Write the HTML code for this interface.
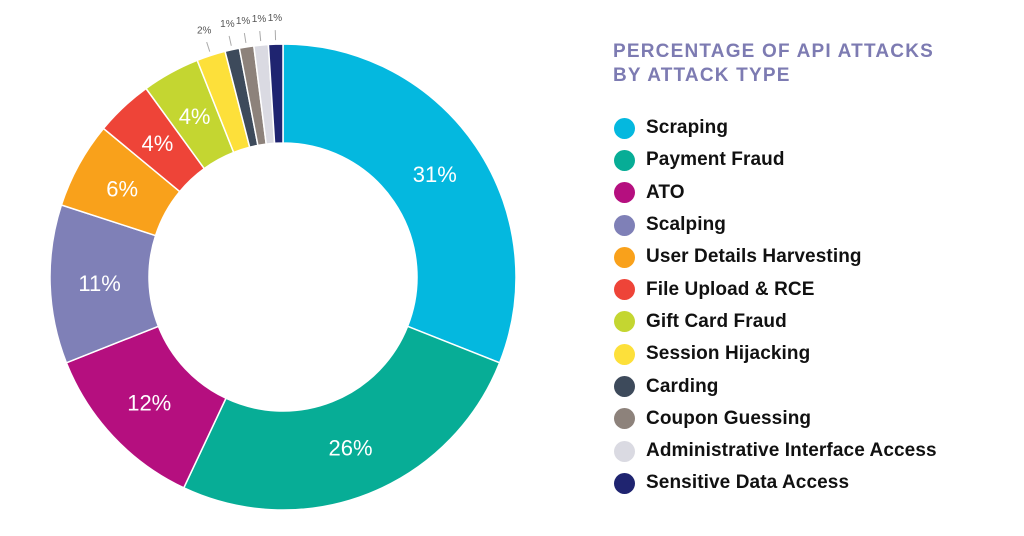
<!DOCTYPE html>
<html><head><meta charset="utf-8"><style>
body{margin:0;width:1024px;height:536px;background:#fff;overflow:hidden;font-family:"Liberation Sans",sans-serif}
.t{position:absolute;left:613px;top:40px;color:#7d7bb2;font-weight:bold;font-size:19px;line-height:24px;letter-spacing:1.2px}
.lg{position:absolute;left:614px;top:112px}
.r{height:32.3px;display:flex;align-items:center;font-size:19px;font-weight:bold;color:#111;letter-spacing:0.1px}
.d{width:21px;height:21px;border-radius:50%;margin-right:11px}
</style></head><body>
<svg id="s" width="1024" height="536" style="position:absolute;left:0;top:0"></svg>
<div class="t">PERCENTAGE OF API ATTACKS<br>BY ATTACK TYPE</div>
<div class="lg" id="lg"></div>
<script>
var d=[["Scraping",31,"#04b8df"],["Payment Fraud",26,"#07ad96"],["ATO",12,"#b50f7f"],["Scalping",11,"#7f80b7"],["User Details Harvesting",6,"#f9a11b"],["File Upload & RCE",4,"#ee4438"],["Gift Card Fraud",4,"#c4d631"],["Session Hijacking",2,"#fde03a"],["Carding",1,"#3d4a5b"],["Coupon Guessing",1,"#8d827b"],["Administrative Interface Access",1,"#dadae2"],["Sensitive Data Access",1,"#1f2470"]];
var cx=283,cy=277,R=233,r=134,a=0,h="";
function p(ang,rad){var t=ang/100*2*Math.PI;return [cx+rad*Math.sin(t),cy-rad*Math.cos(t)];}
d.forEach(function(e){var b=a+e[1];var p1=p(a,R),p2=p(b,R),p3=p(b,r),p4=p(a,r);var l=e[1]>50?1:0;
h+='<path d="M'+p1+' A'+R+' '+R+' 0 '+l+' 1 '+p2+' L'+p3+' A'+r+' '+r+' 0 '+l+' 0 '+p4+'Z" fill="'+e[2]+'" stroke="#fff" stroke-width="1.5"/>';
if(e[1]>=4){var m=p((a+b)/2,(R+r)/2);h+='<text x="'+m[0]+'" y="'+(m[1]+8)+'" fill="#fff" font-size="22" text-anchor="middle" font-family="Liberation Sans">'+e[1]+'%</text>';}
else{var q1=p((a+b)/2,R+4),q2=p((a+b)/2,R+14),q3=p((a+b)/2,R+22);h+='<line x1="'+q1[0]+'" y1="'+q1[1]+'" x2="'+q2[0]+'" y2="'+q2[1]+'" stroke="#aaa"/><text x="'+q3[0]+'" y="'+(q3[1]-1)+'" fill="#555" font-size="10" text-anchor="middle">'+e[1]+'%</text>';}
a=b;});
document.getElementById('s').innerHTML=h;
var g="";d.forEach(function(e){g+='<div class="r"><div class="d" style="background:'+e[2]+'"></div>'+e[0].replace('&','&amp;')+'</div>';});
document.getElementById('lg').innerHTML=g;
</script>
</body></html>
